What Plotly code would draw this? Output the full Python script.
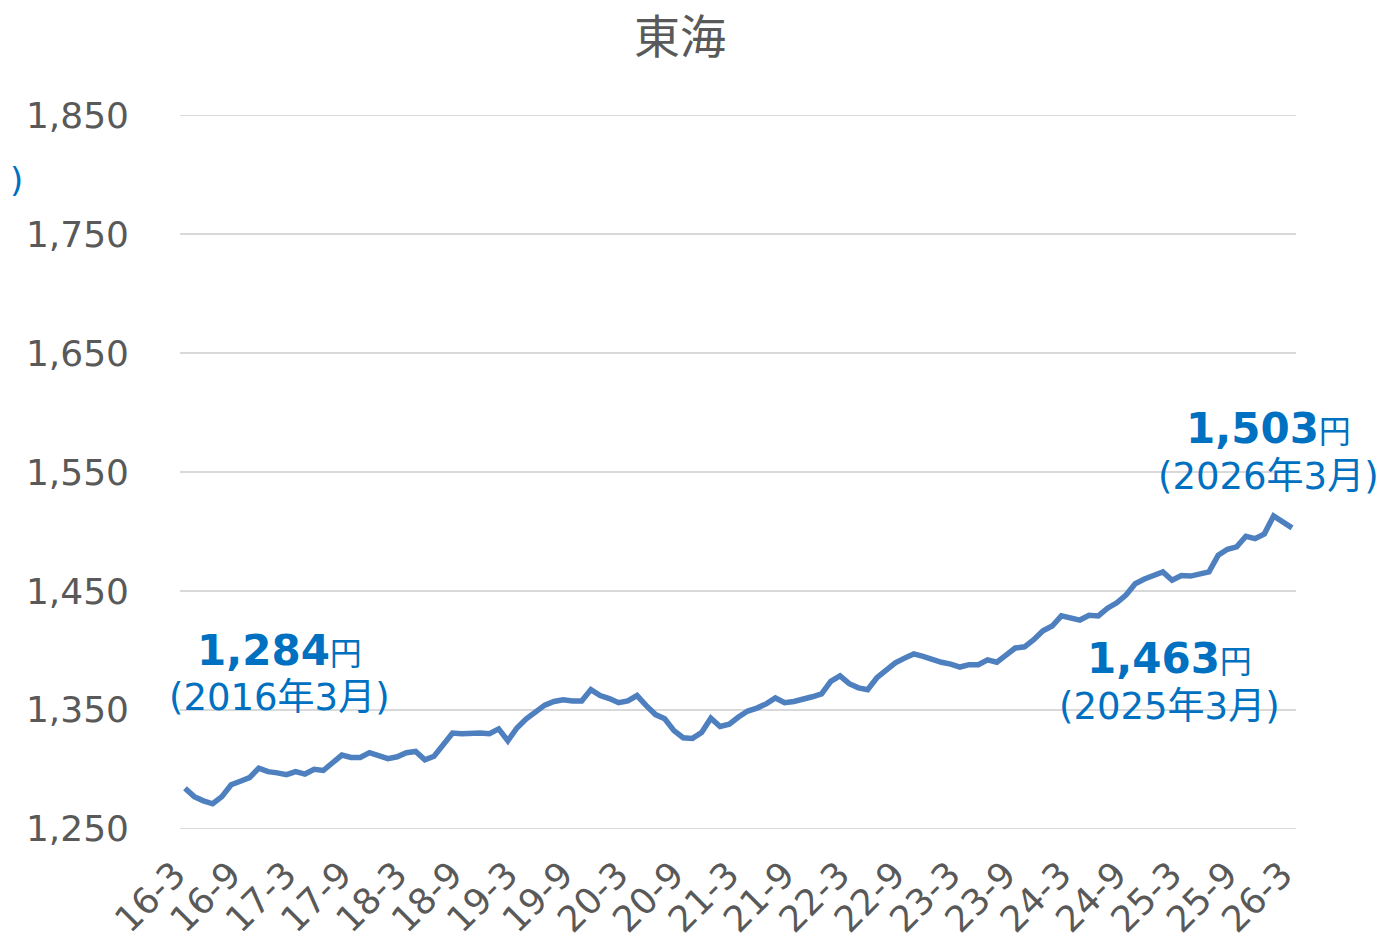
import plotly.graph_objects as go

# Monthly values, 2016-03 .. 2026-03
values = [
    1284, 1277, 1273.5, 1271, 1277, 1287, 1290, 1293, 1301, 1298, 1297, 1295.5,
    1298, 1296, 1300, 1299, 1305.5, 1312, 1310, 1310, 1314, 1312, 1309, 1310.5,
    1314, 1315, 1308, 1311, 1320, 1330.5, 1330, 1330.5, 1330.5, 1330, 1334, 1324,
    1335, 1342.5, 1349, 1354, 1357, 1358.5, 1357.5, 1357.5, 1367, 1362, 1359.5, 1356,
    1357.5, 1362, 1353.5, 1346, 1342.5, 1332.5, 1326.5, 1326, 1331, 1343, 1336, 1338,
    1344, 1349, 1351.5, 1355, 1360, 1356, 1357, 1358.5, 1361, 1363.5, 1374, 1378.5,
    1372, 1368.5, 1367, 1377, 1383.5, 1389.5, 1393.5, 1397, 1395, 1392, 1390, 1388.5,
    1386, 1388, 1388, 1392, 1390, 1396, 1402, 1403, 1409, 1416.5, 1420.5, 1429,
    1427, 1425.5, 1429.5, 1429, 1435.5, 1440, 1446.5, 1456, 1460, 1462.5, 1466, 1459,
    1463, 1462.5, 1464, 1466, 1480, 1485, 1487, 1496, 1494, 1498, 1513, 1508,
    1503,
]
months = list(range(len(values)))
tick_positions = list(range(0, 121, 6))
tick_labels = ["16-3", "16-9", "17-3", "17-9", "18-3", "18-9", "19-3", "19-9",
               "20-3", "20-9", "21-3", "21-9", "22-3", "22-9", "23-3", "23-9",
               "24-3", "24-9", "25-3", "25-9", "26-3"]
y_ticks = [1250, 1350, 1450, 1550, 1650, 1750, 1850]
y_tick_labels = ["1,250", "1,350", "1,450", "1,550", "1,650", "1,750", "1,850"]

FONT = "Verdana, DejaVu Sans, Noto Sans CJK JP"
GRAY = "#595959"
BLUE = "#0070C0"
GRID = "#D9D9D9"

fig = go.Figure()
fig.add_trace(go.Scatter(x=months, y=values, mode="lines",
                         line=dict(color="#4E7FBE", width=5.5), hoverinfo="skip"))

# page body has an 8px margin; work in page pixels and offset
OFF = 8
W, H = 1386 - OFF, 945 - OFF
PL, PR, PT, PB = 180, 1296, 115, 829  # plot area in page pixels
L, T = PL - OFF, PT - OFF
R = W - (PR - OFF)
B = H - (PB - OFF)
pw, ph = PR - PL, PB - PT


def px(x):
    return (x - PL) / pw


def py(y):
    return (PB - y) / ph


anns = [
    dict(x=px(680), y=py(37), text="東海", font=dict(size=46, color=GRAY)),
    dict(x=px(8), y=py(180), text=")", font=dict(size=34, color=BLUE), xanchor="left"),
    dict(x=px(279), y=py(650), text="<b>1,284</b><span style='font-size:32px'>円</span>",
         font=dict(size=42, color=BLUE)),
    dict(x=px(279), y=py(697), text="(2016年3月)", font=dict(size=37, color=BLUE)),
    dict(x=px(1169), y=py(658), text="<b>1,463</b><span style='font-size:32px'>円</span>",
         font=dict(size=42, color=BLUE)),
    dict(x=px(1169), y=py(706), text="(2025年3月)", font=dict(size=37, color=BLUE)),
    dict(x=px(1268), y=py(428), text="<b>1,503</b><span style='font-size:32px'>円</span>",
         font=dict(size=42, color=BLUE)),
    dict(x=px(1268), y=py(476), text="(2026年3月)", font=dict(size=37, color=BLUE)),
]
for a in anns:
    a.setdefault("xanchor", "center")
    a.update(xref="paper", yref="paper", showarrow=False, yanchor="middle")

# edge gridlines (plotly omits grid lines at the plot boundary)
edge_lines = [dict(type="line", xref="paper", yref="y", x0=0, x1=1, y0=v, y1=v,
                   line=dict(color=GRID, width=1.5), layer="below")
              for v in (y_ticks[0], y_ticks[-1])]

fig.update_layout(
    width=W, height=H,
    margin=dict(l=L, r=R, t=T, b=B, pad=0),
    paper_bgcolor="white", plot_bgcolor="white",
    showlegend=False,
    font=dict(family=FONT, color=GRAY),
    annotations=anns,
    shapes=edge_lines,
    xaxis=dict(range=[-0.54, 120.43], tickmode="array", tickvals=tick_positions,
               ticktext=tick_labels, tickangle=-45, tickfont=dict(size=36, color=GRAY),
               showgrid=False, zeroline=False, showline=False, ticks="", ticklen=0,
               ticklabelstandoff=16, ticklabelshift=-10, automargin=False),
    yaxis=dict(range=[1249.8, 1850.2], tickmode="array", tickvals=y_ticks,
               ticktext=y_tick_labels, tickfont=dict(size=36, color=GRAY),
               showgrid=True, gridcolor=GRID, gridwidth=1.5, zeroline=False,
               showline=False, ticks="", ticklabelstandoff=50, automargin=False),
)
fig.write_html("out.html")
